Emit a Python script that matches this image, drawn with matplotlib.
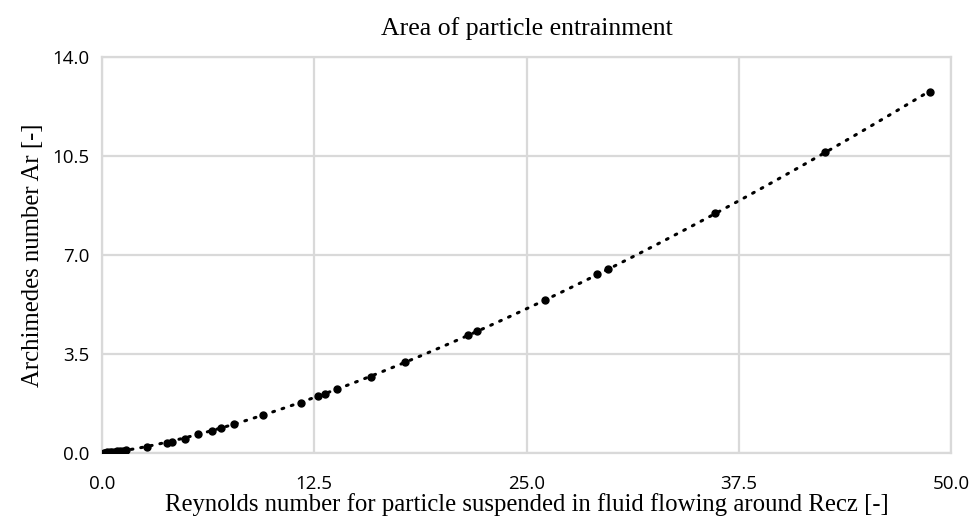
import numpy as np
import matplotlib
matplotlib.use('Agg')
import matplotlib.pyplot as plt

# Reynolds number (x) and Archimedes number (y)
re_cz = [0.10, 0.18, 0.30, 0.47, 0.60, 0.75, 0.88, 1.05, 1.24, 1.41,
         2.65, 3.83, 4.12, 4.89, 5.65, 6.48, 7.01, 7.77, 9.48, 11.72,
         12.72, 13.13, 13.84, 15.84, 17.85, 21.56, 22.09, 26.09, 29.16,
         29.80, 36.10, 42.58, 48.77]
ar = [0.01, 0.01, 0.02, 0.03, 0.04, 0.05, 0.06, 0.07, 0.08, 0.10,
      0.21, 0.35, 0.39, 0.49, 0.67, 0.78, 0.88, 1.03, 1.34, 1.77,
      2.01, 2.09, 2.26, 2.69, 3.22, 4.17, 4.31, 5.41, 6.33,
      6.50, 8.48, 10.64, 12.76]

xticks = [0.0, 12.5, 25.0, 37.5, 50.0]
yticks = [0.0, 3.5, 7.0, 10.5, 14.0]

grid_col = '#d9d9d9'
serif = ['Liberation Serif', 'DejaVu Serif']

fig = plt.figure(figsize=(9.8, 5.21), dpi=100)
ax = fig.add_axes((0.1041, 0.1305, 0.8663, 0.7601))

# power trendline y = a*x^b, least squares in linear space
x = np.array(re_cz)
y = np.array(ar)
best = None
for b in np.arange(1.0, 2.0, 0.002):
    xb = x ** b
    a = (xb @ y) / (xb @ xb)
    err = ((a * xb - y) ** 2).sum()
    if best is None or err < best[0]:
        best = (err, a, b)
_, a, b = best
xt = np.linspace(0.0, x.max(), 300)
yt = a * xt ** b
ax.plot(xt, yt, color='black', lw=2.2, linestyle=(0, (0.6, 2.6)),
        dash_capstyle='round', zorder=3)

ax.plot(re_cz, ar, 'o', color='black', ms=5, zorder=4)

ax.set_xlim(0, 50)
ax.set_ylim(0, 14)
ax.set_xticks(xticks)
ax.set_yticks(yticks)
ax.set_xticklabels(['%.1f' % v for v in xticks])
ax.set_yticklabels(['%.1f' % v for v in yticks])
ax.tick_params(length=0, labelsize=13.5, labelcolor='black')
ax.tick_params(axis='x', pad=16)
ax.tick_params(axis='y', pad=9)
for lab in ax.get_xticklabels() + ax.get_yticklabels():
    lab.set_family(['Open Sans', 'DejaVu Sans'])

ax.grid(True, color=grid_col, lw=1.6)
ax.set_axisbelow(True)
for s in ax.spines.values():
    s.set_color(grid_col)
    s.set_linewidth(1.6)

ax.set_title('Area of particle entrainment', family=serif, fontsize=18.5, pad=16)
ax.set_xlabel('Reynolds number for particle suspended in fluid flowing around Recz [-]',
              family=serif, fontsize=17.8, labelpad=0)
ax.set_ylabel('Archimedes number Ar [-]', family=serif, fontsize=17.8, labelpad=6)

fig.savefig('out.png', dpi=100)
